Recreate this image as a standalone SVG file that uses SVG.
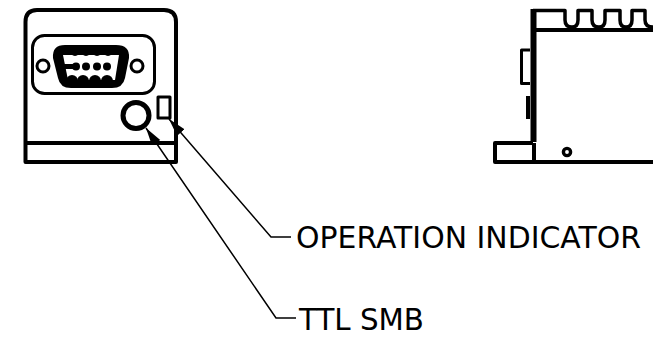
<svg xmlns="http://www.w3.org/2000/svg" width="653" height="340" viewBox="0 0 653 340">
<style>
.l{fill:none;stroke:#000;stroke-linejoin:round}
.t{font-family:"DejaVu Sans",sans-serif;font-size:30px;fill:#000}
.c{fill:none;stroke:#000;stroke-width:1.5}
</style>
<defs><marker id="a" markerUnits="userSpaceOnUse" markerWidth="19" markerHeight="12" refX="18" refY="5" orient="auto"><path d="M0 0L18 5L0 10Z" fill="#000"/></marker></defs>
<rect width="653" height="340" fill="#fff"/>
<g id="front-view">
<path class="l" stroke-width="4" d="M25.500 162V22Q25.500 10 37 10H164Q176 10 176 22V162Z"/>
<path class="l" stroke-width="4" d="M25 143H176"/>
<rect class="l" stroke-width="3" x="32.500" y="35.500" width="122" height="58" rx="12"/>
<circle class="l" stroke-width="3" cx="43" cy="66" r="6"/>
<circle class="l" stroke-width="3" cx="137" cy="66" r="6"/>
<path d="M65 45H116Q130 45 129 58L125 78Q123 88 112 88H71Q60 88 58 78L53 58Q52 45 65 45Z" fill="#000"/>
<path d="M63 55H119L115 80H68Z" fill="#fff"/>
<g fill="#000"><rect x="64" y="64" width="14" height="5"/><circle cx="76" cy="66.500" r="4"/><circle cx="86" cy="66.500" r="4"/><circle cx="97" cy="66.500" r="4"/><circle cx="107" cy="66.500" r="4"/><circle cx="72" cy="81" r="6"/><circle cx="83" cy="81" r="6"/><circle cx="95" cy="81" r="6"/><circle cx="107" cy="81" r="6"/><circle cx="75" cy="51" r="5"/><circle cx="86" cy="51" r="5"/><circle cx="97" cy="51" r="5"/><circle cx="108" cy="51" r="5"/></g>
<circle class="l" stroke-width="5" cx="136" cy="115.500" r="13"/>
<rect class="l" stroke-width="3" x="158" y="97" width="12" height="21"/>
</g>
<g id="side-view">
<path class="l" stroke-width="6" d="M533.500 9V142"/>
<path class="l" stroke-width="3.500" d="M533 10.500H565V20Q565 27 572 27Q578 27 578 20V10.500H592V20Q592 27 599 27Q605 27 605 20V10.500H620V20Q620 27 626 27Q632 27 632 20V10.500H645V20Q645 27 653 27"/>
<path class="l" stroke-width="4" d="M533 30H653"/>
<path class="l" stroke-width="3" d="M530 50H521.500V83.500H530"/>
<path class="l" stroke-width="4" d="M528 96V119"/>
<path class="l" stroke-width="4" d="M533 143H495V162H653M534 143V162"/>
<circle class="l" stroke-width="3.400" cx="567" cy="152" r="3.600"/>
</g>
<g id="connectors">
<path class="c" marker-end="url(#a)" d="M291 237H271L169 119"/>
<path class="c" marker-end="url(#a)" d="M296 318H276L146 128"/>
</g>
<g id="label-operation"><text class="t" x="296" y="248" textLength="345" lengthAdjust="spacingAndGlyphs">OPERATION INDICATOR</text></g>
<g id="label-ttl"><text class="t" x="299" y="329.500" textLength="125" lengthAdjust="spacingAndGlyphs">TTL SMB</text></g>
</svg>
